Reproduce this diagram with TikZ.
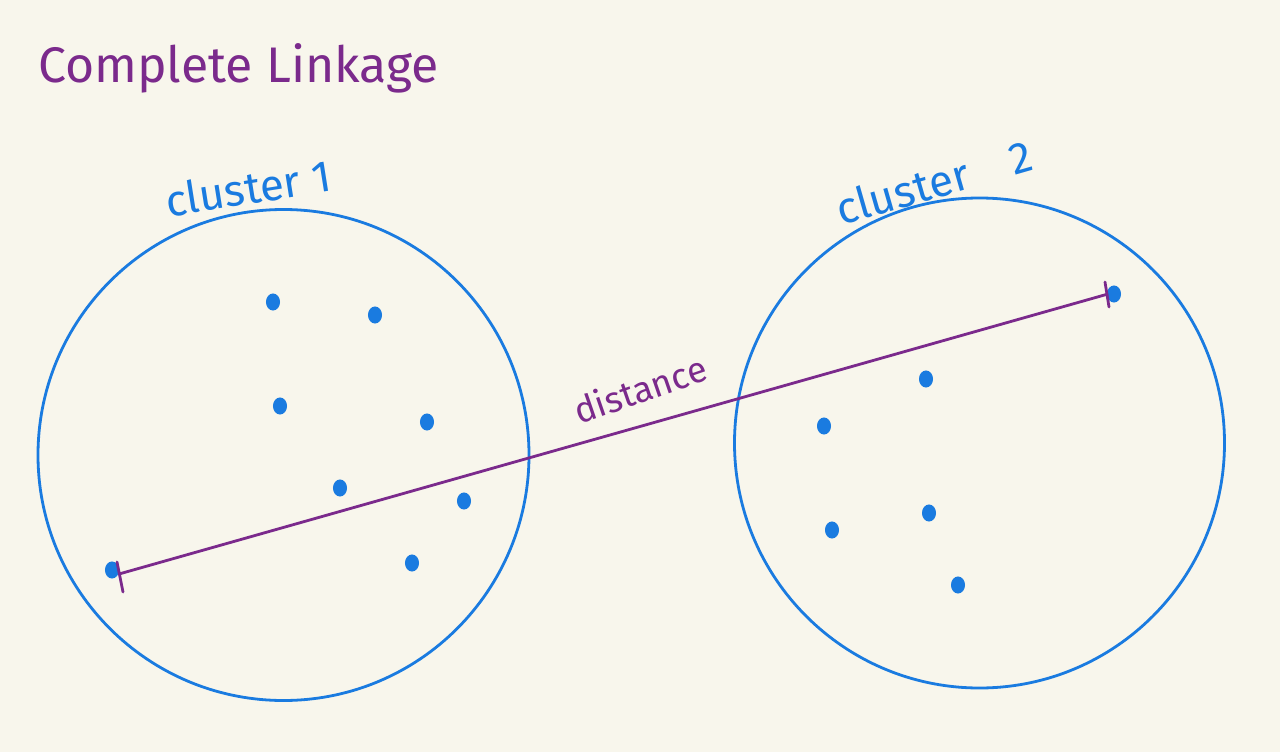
\documentclass[tikz,border=0pt]{standalone}
\usepackage{fontspec}
\setmainfont{Fira Sans}
\definecolor{paper}{HTML}{F8F6EC}
\definecolor{pen}{HTML}{1A7BE0}
\definecolor{ink}{HTML}{7B2A8C}
\tikzset{
  cluster/.style={circle, draw=pen, line width=2.8pt, inner sep=0pt},
  pt/.style={ellipse, fill=pen, draw=pen, line width=1pt, minimum width=13pt, minimum height=16pt, inner sep=0pt},
  hand/.style={text=ink, inner sep=0pt},
  bluehand/.style={text=pen, inner sep=0pt},
  link/.style={draw=ink, line width=2.8pt},
}
\usetikzlibrary{shapes.geometric}
\begin{document}
\begin{tikzpicture}[x=1pt,y=-1pt]
\fill[paper] (0,0) rectangle (1280,752);
\useasboundingbox (0,0) rectangle (1280,752);

\node[hand, anchor=west, font=\fontsize{50}{60}\selectfont] (title) at (38,68) {Complete Linkage};

\node[cluster, minimum size=491pt] (c1) at (283.5,455) {};
\node[cluster, minimum size=490pt] (c2) at (979.5,443) {};

\node[bluehand, rotate=9, font=\fontsize{44}{52}\selectfont] (l1) at (248,188) {cluster 1};
\node[bluehand, rotate=16, font=\fontsize{44}{52}\selectfont] (l2) at (934,182) {cluster\hspace{1em}2};

\node[pt] (p1) at (273,302) {};
\node[pt] (p2) at (375,315) {};
\node[pt] (p3) at (280,406) {};
\node[pt] (p4) at (427,422) {};
\node[pt] (p5) at (340,488) {};
\node[pt] (p6) at (464,501) {};
\node[pt] (p7) at (412,563) {};
\node[pt] (a) at (112,570) {};

\node[pt] (b) at (1114,294) {};
\node[pt] (q1) at (926,379) {};
\node[pt] (q2) at (824,426) {};
\node[pt] (q3) at (929,513) {};
\node[pt] (q4) at (832,530) {};
\node[pt] (q5) at (958,585) {};

\coordinate (e1) at (119,574);
\coordinate (e2) at (1108,294);
\coordinate (t1a) at (117,562);
\coordinate (t1b) at (123,592);
\coordinate (t2a) at (1105,282);
\coordinate (t2b) at (1109,307);

\draw[link] (e1) -- (e2);
\draw[link, line cap=round] (t1a) -- (t1b);
\draw[link, line cap=round] (t2a) -- (t2b);

\node[hand, rotate=19, font=\fontsize{36}{42}\selectfont] (d) at (640,389) {distance};
\end{tikzpicture}
\end{document}
